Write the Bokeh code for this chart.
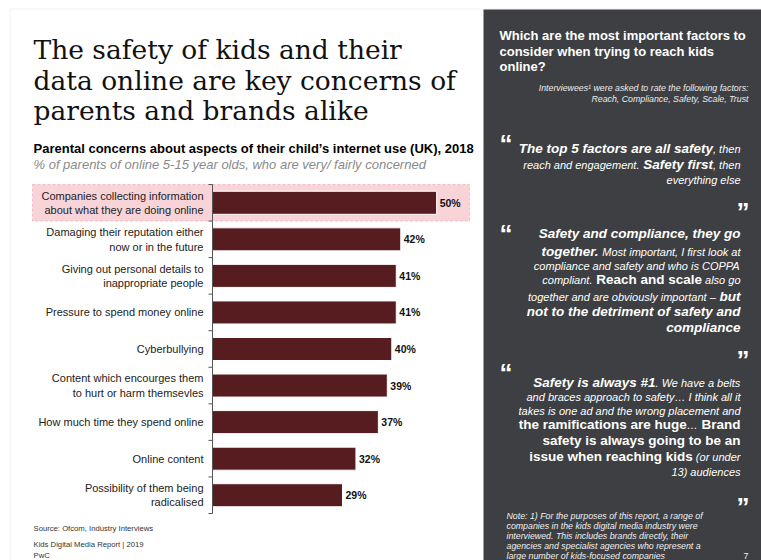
import math
from bokeh.plotting import figure
from bokeh.models import ColumnDataSource, Range1d, BoxAnnotation
from bokeh.embed import file_html
from bokeh.resources import INLINE
from bokeh.core.properties import value

# ---------------- data ----------------
categories = [
    "Companies collecting information\nabout what they are doing online",
    "Damaging their reputation either\nnow or in the future",
    "Giving out personal details to\ninappropriate people",
    "Pressure to spend money online",
    "Cyberbullying",
    "Content which encourges them\nto hurt or harm themsevles",
    "How much time they spend online",
    "Online content",
    "Possibility of them being\nradicalised",
]
values = [50, 42, 41, 41, 40, 39, 37, 32, 29]
value_labels = [f"{v}%" for v in values]
highlight_index = 0
x_max = 58

title_lines = ["The safety of kids and their",
               "data online are key concerns of",
               "parents and brands alike"]
chart_title = "Parental concerns about aspects of their child\u2019s internet use (UK), 2018"
chart_subtitle = "% of parents of online 5-15 year olds, who are very/ fairly concerned"
footer_lines = ["Source: Ofcom, Industry Interviews", "Kids Digital Media Report | 2019", "PwC"]

panel_header = ["Which are the most important factors to",
                "consider when trying to reach kids", "online?"]
panel_sub = ["Interviewees\u00b9 were asked to rate the following factors:",
             "Reach, Compliance, Safety, Scale, Trust"]
quotes = [
    [[("The top 5 factors are all safety", "bi"), (", then", "i")],
     [("reach and engagement.", "i"), (" Safety first", "bi"), (", then", "i")],
     [("everything else", "i")]],
    [[("Safety and compliance, they go", "bi")],
     [("together.", "bi"), (" Most important, I first look at", "i")],
     [("compliance and safety and who is COPPA", "i")],
     [("compliant.", "i"), (" Reach and scale", "b"), (" also go", "i")],
     [("together and are obviously important \u2013", "i"), (" but", "bi")],
     [("not to the detriment of safety and", "bi")],
     [("compliance", "bi")]],
    [[("Safety is always #1", "bi"), (". We have a belts", "i")],
     [("and braces approach to safety\u2026 I think all it", "i")],
     [("takes is one ad and the wrong placement and", "i")],
     [("the ramifications are huge", "b"), ("\u2026", "i"), (" Brand", "b")],
     [("safety is always going to be an", "b")],
     [("issue when reaching kids", "b"), (" (or under", "i")],
     [("13) audiences", "i")]],
]
note_lines = ["Note: 1) For the purposes of this report, a range of",
              "companies in the kids digital media industry were",
              "interviewed. This includes brands directly, their",
              "agencies and specialist agencies who represent a",
              "large number of kids-focused companies"]
page_number = "7"

# ---------------- layout constants (pixels) ----------------
W, H = 761, 560
SANS = "Liberation Sans"
BAR = "#561c1f"
DARK = "#3d3f42"
CH_L, CH_R, CH_T, CH_B = 212, 472, 184, 513   # chart plotting box
PANEL_X = 483

# Arial / Liberation Sans advance widths (1/1000 em)
_REG = dict(zip(" !#%(),-./0123456789:?", [278, 278, 556, 889, 333, 333, 278, 333, 278, 278] + [556] * 10 + [278, 556]))
_REG.update(dict(zip("ABCDEFGHIJKLMNOPQRSTUVWXYZ",
                     [667, 667, 722, 722, 667, 611, 778, 722, 278, 500, 667, 556, 833, 722, 778, 667, 778, 722, 667, 611, 722, 667, 944, 667, 667, 611])))
_REG.update(dict(zip("abcdefghijklmnopqrstuvwxyz",
                     [556, 556, 500, 556, 556, 278, 556, 556, 222, 222, 500, 222, 833, 556, 556, 556, 556, 333, 500, 278, 556, 500, 722, 500, 500, 500])))
_REG.update({"\u2013": 556, "\u2026": 1000, "\u00b9": 333, "\u2019": 222})
_BOLD = dict(zip(" !#%(),-./0123456789:?", [278, 333, 556, 889, 333, 333, 278, 333, 278, 278] + [556] * 10 + [333, 611]))
_BOLD.update(dict(zip("ABCDEFGHIJKLMNOPQRSTUVWXYZ",
                      [722, 722, 722, 722, 667, 611, 778, 722, 278, 556, 722, 611, 833, 722, 778, 667, 778, 722, 667, 611, 722, 667, 944, 667, 667, 611])))
_BOLD.update(dict(zip("abcdefghijklmnopqrstuvwxyz",
                      [556, 611, 556, 611, 556, 333, 611, 611, 278, 278, 556, 278, 889, 611, 611, 611, 611, 389, 556, 333, 611, 556, 778, 556, 556, 500])))
_BOLD.update({"\u2013": 556, "\u2026": 1000})

STYLE = {"i": ("italic", 11.0, False), "bi": ("bold italic", 13.5, True), "b": ("bold", 13.5, True)}


def text_width(s, bold, size):
    table = _BOLD if bold else _REG
    return sum(table.get(c, 556) for c in s) * size / 1000.0


# ---------------- figure ----------------
p = figure(width=W, height=H, output_backend="svg", toolbar_location=None,
           x_range=Range1d(0, W), y_range=Range1d(H, 0), min_border=0,
           x_axis_location=None, y_axis_location=None)
p.grid.visible = False
p.outline_line_color = None
p.background_fill_color = "white"
p.border_fill_color = "white"

n = len(categories)
sx = x_max / (CH_R - CH_L)
sy = n / (CH_B - CH_T)
p.extra_x_ranges = {"pct": Range1d(-CH_L * sx, x_max + (W - CH_R) * sx)}
p.extra_y_ranges = {"cat": Range1d(n + (H - CH_B) * sy, -CH_T * sy)}

# slide frame + dark panel
p.add_layout(BoxAnnotation(left=9.5, right=W + 5, top=8.5, bottom=H + 5, fill_alpha=0,
                           line_color="#d2d2d2", line_width=1, level="underlay"))
p.add_layout(BoxAnnotation(left=PANEL_X, right=W + 5, top=9, bottom=H + 5, fill_color=DARK,
                           fill_alpha=1, line_color=None, level="underlay"))
# highlighted category
p.add_layout(BoxAnnotation(left=32, right=469, top=highlight_index, bottom=highlight_index + 1,
                           y_range_name="cat", fill_color="#f8d4d9", fill_alpha=1,
                           line_color="#e3607a", line_dash="3 2", line_width=1, level="underlay"))

# ---------------- bar chart ----------------
pos = [i + 0.5 for i in range(n)]
bounds = list(range(n + 1))
src = ColumnDataSource(dict(y=pos, val=values, lbl=value_labels, cat=categories))
R = dict(x_range_name="pct", y_range_name="cat")

p.hbar(y="y", left=0, right="val", height=0.63, source=src,
       fill_color=BAR, line_color="#ffffff", line_width=1, **R)
p.text(x="val", y="y", text="lbl", source=src, x_offset=3, text_baseline="middle",
       text_align="left", text_font=value(SANS), text_font_style="bold",
       text_font_size="10.5px", text_color="#111111", **R)
# category axis
p.segment(x0=[0], y0=[bounds[0]], x1=[0], y1=[bounds[-1]], line_color="#555555", line_width=1, **R)
p.ray(x=[0] * len(bounds), y=bounds, length=4, length_units="screen", angle=math.pi,
      line_color="#555555", line_width=1, **R)
p.text(x=[0] * n, y=pos, text=categories, x_offset=-9, text_align="right", text_baseline="middle",
       text_font=value(SANS), text_font_size="11px", text_color="#222222",
       text_line_height=1.2, **R)

# ---------------- left texts ----------------
p.text(x=[33] * 3, y=[49, 80, 110], text=title_lines, text_align="left",
       text_baseline="alphabetic", text_font=value("DejaVu Serif"),
       text_font_size="26.5px", text_color="#111111")
p.text(x=[33], y=[148], text=[chart_title], text_baseline="middle", text_font=value(SANS),
       text_font_style="bold", text_font_size="13px", text_color="#000000")
p.text(x=[33], y=[164], text=[chart_subtitle], text_baseline="middle", text_font=value(SANS),
       text_font_style="italic", text_font_size="13px", text_color="#8a8a8a")
p.text(x=[33] * 3, y=[528, 544, 555], text=footer_lines, text_baseline="middle",
       text_font=value(SANS), text_font_size="7.7px", text_color="#333333")

# ---------------- right panel ----------------
RX = PANEL_X + 257
p.text(x=[PANEL_X + 16] * 3, y=[35, 51, 66], text=panel_header, text_baseline="middle",
       text_font=value(SANS), text_font_style="bold", text_font_size="13px", text_color="#ffffff")
p.text(x=[PANEL_X + 265] * 2, y=[87, 98], text=panel_sub, text_align="right",
       text_baseline="middle", text_font=value(SANS), text_font_style="italic",
       text_font_size="8.8px", text_color="#ececec")

quote_line_y = [[148, 164, 179],
                [233, 251, 265, 279, 296, 311, 327],
                [382, 396, 410, 424, 440, 456, 471]]
seg = {k: dict(x=[], y=[], t=[]) for k in STYLE}
for q, ys in zip(quotes, quote_line_y):
    for line, y in zip(q, ys):
        parts = []
        for txt, st in line:
            _, size, bold = STYLE[st]
            lead = len(txt) - len(txt.lstrip(" "))
            body = txt.strip(" ")
            parts.append((body, st, text_width(" " * lead, bold, size), text_width(body, bold, size)))
        total = sum(a + b for _, _, a, b in parts)
        x = RX - total
        for body, st, lead_w, body_w in parts:
            x += lead_w
            seg[st]["x"].append(x)
            seg[st]["y"].append(y)
            seg[st]["t"].append(body)
            x += body_w
for st, d in seg.items():
    fstyle, size, _ = STYLE[st]
    p.text(x="x", y="y", text="t", source=ColumnDataSource(d), text_align="left",
           text_baseline="middle", text_font=value(SANS), text_font_style=fstyle,
           text_font_size=f"{size}px", text_color="#ffffff")

# quote marks
p.text(x=[PANEL_X + 16] * 3, y=[128.5 + 15, 218.5 + 15, 357 + 15], text=["\u201c"] * 3,
       text_align="left", text_baseline="alphabetic", text_font=value(SANS),
       text_font_style="bold", text_font_size="26px", text_color="#ffffff")
p.text(x=[PANEL_X + 266] * 3, y=[196 + 15, 344.5 + 15, 491 + 15], text=["\u201d"] * 3,
       text_align="right", text_baseline="alphabetic", text_font=value(SANS),
       text_font_style="bold", text_font_size="26px", text_color="#ffffff")

# note and page number
p.text(x=[PANEL_X + 23] * 5, y=[515, 525.2, 535.4, 545.6, 555], text=note_lines,
       text_baseline="middle", text_font=value(SANS), text_font_style="italic",
       text_font_size="8.8px", text_color="#f0f0f0")
p.text(x=[PANEL_X + 265], y=[555], text=[page_number], text_align="right",
       text_baseline="middle", text_font=value(SANS), text_font_size="8.8px",
       text_color="#f0f0f0")

open("out.html", "w").write(file_html(p, INLINE))
